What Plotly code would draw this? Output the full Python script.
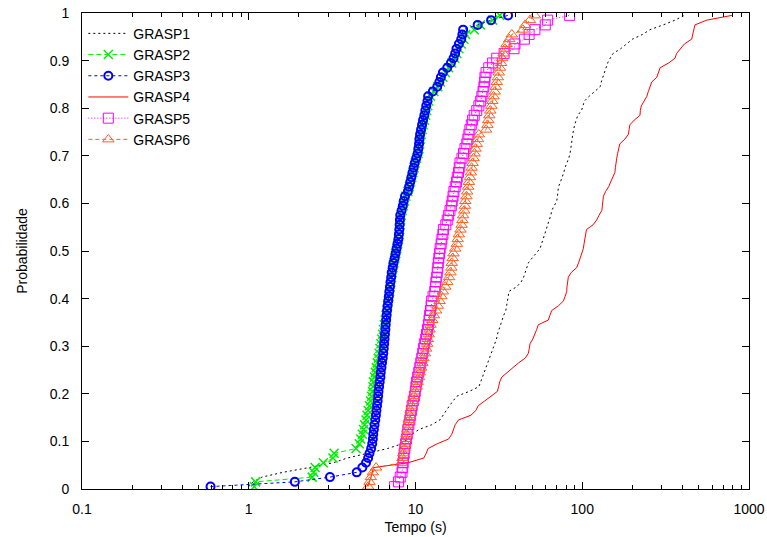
import plotly.graph_objects as go

# Cumulative probabilities p_i = (i - 0.5) / 100
N = 100
prob = [(i - 0.5) / N for i in range(1, N + 1)]

grasp1 = [1.0, 1.06, 1.2, 1.6, 2.3, 3.2, 3.9, 5.2, 6.8, 8.3,
          8.9, 9.5, 10.5, 12.5, 14.0, 14.6, 15.2, 16.0, 16.8, 17.7,
          21.0, 24.0, 24.6, 25.2, 26.0, 26.6, 27.2, 27.8, 28.5, 29.2,
          30.0, 30.6, 31.0, 31.6, 32.2, 32.9, 33.8, 34.8, 35.3, 35.7,
          36.0, 36.3, 40.5, 43.0, 44.5, 45.5, 46.5, 47.5, 50.0, 53.0,
          55.8, 57.0, 58.4, 59.5, 60.8, 62.0, 63.5, 64.8, 65.6, 68.0,
          70.3, 71.0, 71.5, 72.0, 74.0, 76.0, 77.5, 78.8, 81.0, 83.0,
          84.5, 85.5, 86.4, 87.0, 87.6, 88.4, 90.0, 92.0, 94.0, 99.0,
          101, 103, 110, 118, 128, 130, 133, 137, 140, 142,
          147, 153, 170, 185, 200, 230, 255, 306, 360, 410]

grasp2 = [1.08, 1.1, 2.4, 2.45, 2.5, 2.8, 3.2, 3.25, 4.4, 4.6,
          4.7, 4.8, 4.88, 4.95, 5.05, 5.12, 5.2, 5.3, 5.38, 5.45,
          5.52, 5.56, 5.6, 5.68, 5.75, 5.82, 5.9, 5.98, 6.05, 6.12,
          6.2, 6.28, 6.35, 6.42, 6.5, 6.58, 6.65, 6.72, 6.8, 6.87,
          6.94, 7.0, 7.06, 7.12, 7.18, 7.25, 7.33, 7.42, 7.52, 7.62,
          7.72, 7.82, 7.92, 7.98, 8.05, 8.1, 8.15, 8.22, 8.32, 8.45,
          8.6, 8.75, 9.0, 9.2, 9.35, 9.5, 9.65, 9.8, 9.95, 10.15,
          10.35, 10.5, 10.6, 10.7, 10.8, 10.95, 11.1, 11.3, 11.5, 11.65,
          11.85, 12.0, 12.3, 12.9, 13.6, 14.1, 14.6, 15.1, 15.8, 16.5,
          17.2, 17.7, 18.2, 18.8, 19.5, 20.0, 22.5, 24.5, 29.0, 32.0]

grasp3 = [0.59, 1.89, 3.07, 4.44, 4.8, 5.05, 5.2, 5.3, 5.42, 5.5,
          5.55, 5.58, 5.63, 5.68, 5.74, 5.79, 5.83, 5.88, 5.93, 5.97,
          6.0, 6.05, 6.1, 6.16, 6.19, 6.25, 6.3, 6.36, 6.41, 6.45,
          6.49, 6.52, 6.56, 6.6, 6.63, 6.67, 6.71, 6.75, 6.8, 6.86,
          6.92, 6.97, 7.03, 7.08, 7.15, 7.2, 7.3, 7.38, 7.5, 7.6,
          7.7, 7.8, 7.9, 7.95, 8.0, 8.03, 8.06, 8.1, 8.25, 8.4,
          8.5, 8.65, 9.0, 9.15, 9.3, 9.45, 9.6, 9.75, 9.9, 10.1,
          10.3, 10.4, 10.5, 10.55, 10.65, 10.8, 10.95, 11.1, 11.3, 11.45,
          11.6, 11.8, 11.9, 12.7, 13.5, 13.9, 14.2, 14.6, 15.5, 16.3,
          16.9, 17.3, 17.6, 18.2, 18.8, 19.1, 19.3, 23.6, 28.4, 35.9]

grasp4 = [5.1, 5.3, 5.4, 5.5, 5.6, 9.0, 11.2, 11.6, 11.9, 13.5,
          15.8, 16.5, 16.9, 17.3, 18.1, 21.5, 23.0, 23.8, 26.0, 28.5,
          31.0, 31.5, 32.0, 32.9, 35.5, 38.5, 41.5, 45.5, 47.5, 48.1,
          48.6, 50.5, 52.0, 53.3, 54.5, 62.6, 64.0, 65.6, 72.0, 77.1,
          79.0, 80.7, 81.0, 81.5, 82.5, 86.0, 92.6, 95.0, 97.0, 99.5,
          101.5, 102.5, 103.5, 104.5, 106, 116, 122, 126, 131, 132,
          133, 134, 138, 144, 148, 152, 157, 158, 159, 161,
          163, 166, 168, 180, 189, 191, 193, 205, 222, 223,
          226, 235, 244, 249, 255, 261, 280, 287, 293, 330,
          360, 368, 386, 410, 453, 460, 467, 474, 558, 790]

grasp5 = [7.5, 7.9, 8.1, 8.3, 8.38, 8.43, 8.48, 8.55, 8.62, 8.72,
          8.82, 8.92, 9.0, 9.12, 9.25, 9.35, 9.45, 9.55, 9.7, 9.85,
          9.97, 10.05, 10.15, 10.3, 10.45, 10.6, 10.75, 10.9, 11.05, 11.15,
          11.3, 11.5, 11.65, 11.8, 11.95, 12.05, 12.15, 12.3, 12.4, 12.5,
          12.75, 13.05, 13.15, 13.25, 13.4, 13.5, 13.6, 13.7, 13.8, 13.95,
          14.05, 14.25, 14.4, 14.6, 14.7, 15.2, 15.5, 15.8, 16.1, 16.4,
          16.6, 16.8, 17.0, 17.3, 17.6, 17.8, 18.1, 18.3, 18.5, 19.0,
          19.4, 19.8, 20.3, 20.6, 20.9, 21.2, 21.6, 22.0, 22.5, 23.3,
          24.0, 24.6, 25.0, 25.4, 25.7, 26.0, 26.1, 26.5, 27.5, 29.0,
          30.7, 34.0, 39.0, 39.5, 45.0, 48.0, 52.0, 60.0, 62.0, 84.0]

grasp6 = [5.2, 5.3, 5.4, 5.55, 5.8, 8.2, 8.35, 8.45, 8.6, 8.7,
          8.8, 8.85, 8.95, 9.05, 9.15, 9.25, 9.35, 9.5, 9.7, 9.8,
          9.95, 10.15, 10.3, 10.5, 10.6, 10.8, 11.0, 11.15, 11.4, 11.6,
          11.75, 11.85, 12.0, 12.15, 12.3, 12.6, 12.9, 13.3, 13.6, 13.95,
          14.3, 14.6, 15.1, 15.5, 15.9, 16.2, 16.4, 16.5, 16.7, 16.9,
          17.3, 17.7, 17.9, 18.2, 18.6, 18.9, 19.1, 19.3, 19.6, 19.8,
          19.9, 20.2, 20.4, 20.7, 20.9, 21.2, 21.5, 21.7, 22.0, 22.3,
          22.6, 22.9, 23.3, 23.7, 24.0, 26.5, 27.0, 27.3, 27.7, 28.1,
          28.5, 28.9, 29.4, 29.9, 30.3, 30.7, 31.2, 31.6, 32.1, 32.6,
          33.1, 33.7, 34.4, 35.2, 36.5, 37.8, 44.0, 45.5, 48.6, 52.0]

names = ["GRASP1", "GRASP2", "GRASP3", "GRASP4", "GRASP5", "GRASP6"]
x_tick_vals = [0.1, 1, 10, 100, 1000]
x_tick_text = ["0.1", "1", "10", "100", "1000"]
x_minor_vals = [m * d for d in (0.1, 1, 10, 100) for m in range(2, 10)]
y_tick_vals = [0, 0.1, 0.2, 0.3, 0.4, 0.5, 0.6, 0.7, 0.8, 0.9, 1]
y_tick_text = ["0", "0.1", "0.2", "0.3", "0.4", "0.5", "0.6", "0.7", "0.8", "0.9", "1"]

FONT = "Liberation Sans, Arial, sans-serif"

styles = [
    dict(mode="lines", line=dict(color="#000000", width=1, dash="2px,3px")),
    dict(mode="lines+markers", line=dict(color="#00ee00", width=1, dash="5px,3px"),
         marker=dict(symbol="x-thin-open", size=9, line=dict(color="#00ee00", width=1.5))),
    dict(mode="lines+markers", line=dict(color="#0000ff", width=1, dash="3px,3px"),
         marker=dict(symbol="circle-open", size=8, line=dict(color="#0000ff", width=2))),
    dict(mode="lines", line=dict(color="#ff0000", width=1)),
    dict(mode="lines+markers", line=dict(color="#ff00ff", width=1, dash="1px,2px"),
         marker=dict(symbol="square-open", size=10, line=dict(color="#ff00ff", width=1))),
    dict(mode="lines+markers", line=dict(color="#ff6020", width=1, dash="4px,3px"),
         marker=dict(symbol="triangle-up-open", size=10, line=dict(color="#ff6020", width=1))),
]

fig = go.Figure()
for name, xs, st in zip(names, [grasp1, grasp2, grasp3, grasp4, grasp5, grasp6], styles):
    fig.add_trace(go.Scatter(x=xs, y=prob, name=name, cliponaxis=True, **st))

axis_common = dict(
    showline=True, linecolor="black", linewidth=1, mirror="ticks",
    ticks="inside", ticklen=7, tickcolor="black", tickwidth=1,
    showgrid=False, zeroline=False, automargin=False,
    tickfont=dict(family=FONT, size=14, color="black"),
)

fig.update_xaxes(
    type="log", range=[-1, 3],
    tickmode="array", tickvals=x_tick_vals, ticktext=x_tick_text,
    minor=dict(ticks="inside", ticklen=4, tickcolor="black", tickwidth=1,
               tickmode="array", tickvals=x_minor_vals, showgrid=False),
    title=dict(text="Tempo (s)", font=dict(family=FONT, size=14, color="black"), standoff=6),
    ticklabelstandoff=7,
    **axis_common,
)
fig.update_yaxes(
    range=[0, 1],
    tickmode="array", tickvals=y_tick_vals, ticktext=y_tick_text,
    title=dict(text="Probabilidade", font=dict(family=FONT, size=14, color="black"), standoff=18),
    ticklabelstandoff=9,
    **axis_common,
)

fig.update_layout(
    width=767, height=537,
    margin=dict(l=82, r=18, t=13, b=48),
    plot_bgcolor="white", paper_bgcolor="white",
    font=dict(family=FONT, size=14, color="black"),
    showlegend=True,
    legend=dict(x=0.002, y=0.99, xanchor="left", yanchor="top",
                bgcolor="rgba(0,0,0,0)", borderwidth=0,
                font=dict(family=FONT, size=14, color="black"),
                itemwidth=40, tracegroupgap=0),
)

fig.write_html("out.html")
